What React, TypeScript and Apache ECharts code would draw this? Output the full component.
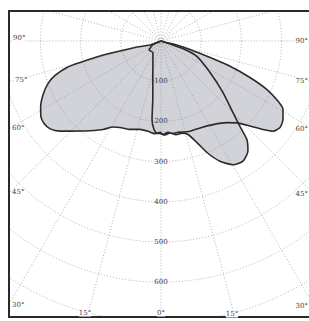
import { useEffect, useRef } from 'react';
import * as echarts from 'echarts';

// Polar photometric diagram: angle from nadir (deg, negative = left), intensity (cd)
const curveAAngles = [-90, -70, -76, -76.3, -76.2, -75.1, -74.3, -72, -69.4, -65.6, -61.1, -57.8, -54.8, -51.6, -48.3, -40.2, -33.2, -29.2, -25.4, -19.3, -13.3, -8.2, -3.7, -0.6, 1.2, 4.4, 7.4, 10.6, 13.6, 17.8, 24.2, 31.9, 38.9, 42.9, 46.3, 49.1, 51.2, 54, 57.2, 60.7, 62.8, 65.4, 67.7, 69.9, 71.4, 73.7, 76, 73, 90];
const curveAValues = [0, 29, 67, 105, 156, 208, 243, 277, 300, 322, 342, 353, 356, 352, 337, 293, 263, 245, 238, 233, 226, 227, 231, 227, 233, 228, 232, 231, 233, 236, 237, 245, 261, 278, 306, 336, 358, 366, 361, 348, 327, 290, 239, 183, 129, 75, 36, 13, 0];

const curveBAngles = [-90, -66, -53, -35, -19, -12, -8, -6.5, -4.5, -2.5, -0.6, 2.4, 5.6, 9.1, 12.8, 16.1, 19.5, 22.4, 26.1, 30.2, 34.3, 38.3, 41.1, 42.7, 45.2, 50.3, 57.3, 66.7, 70.5, 71.6, 90];
const curveBValues = [0, 22, 37, 35, 62, 98, 147, 197, 221, 230, 230, 234, 230, 236, 235, 242, 268, 300, 333, 356, 362, 349, 325, 290, 252, 200, 145, 97, 63, 24, 0];

const radiusMax = 800;
const radiusStep = 100;
const radiusLabelMax = 600;
const angleStep = 15;

const angleLabels = ['90°', '75°', '60°', '45°', '30°', '15°', '0°', '15°', '30°', '45°', '60°', '75°', '90°'];
// label placements (layout only)
const angleLabelLayout: Array<[number, number, 'left' | 'center' | 'right']> = [
  [13, 38, 'left'], [15, 80, 'left'], [12, 128, 'left'], [12, 192, 'left'], [12, 305, 'left'], [85, 313, 'center'],
  [161, 313, 'center'],
  [232, 314, 'center'], [308, 306, 'right'], [308, 194, 'right'], [308, 129, 'right'], [308, 81, 'right'], [308, 41, 'right'],
];

const toAxis = (a: number) => (a < 0 ? a + 360 : a);
const pairs = (angles: number[], values: number[]) => angles.map((a, i) => [values[i], toAxis(a)]);

const FILL = '#d2d2d9';
const LINE = '#2b2b2b';
const GRID = '#8c8c8c';
const SMOOTH = 0.2;

export default function App() {
  const ref = useRef<HTMLDivElement>(null);
  useEffect(() => {
    const chart = echarts.init(ref.current!, null, { renderer: 'svg' });
    const dataA = pairs(curveAAngles, curveAValues);
    const dataB = pairs(curveBAngles, curveBValues);
    const frame = { left: 9, top: 11, right: 312, bottom: 317 };
    chart.setOption({
      animation: false,
      backgroundColor: '#ffffff',
      polar: { center: [161, 41], radius: 321.6 },
      angleAxis: {
        type: 'value', min: 0, max: 360, interval: angleStep, startAngle: 270, clockwise: false, z: 2,
        axisLine: { show: false }, axisTick: { show: false }, axisLabel: { show: false },
        splitLine: { show: true, lineStyle: { type: [1, 2], color: GRID, width: 0.8, opacity: 0.85 } },
      },
      radiusAxis: {
        type: 'value', min: 0, max: radiusMax, interval: radiusStep, z: 2,
        axisLine: { show: false }, axisTick: { show: false },
        axisLabel: {
          show: true, margin: 0, align: 'center', verticalAlign: 'middle',
          fontSize: 7, fontFamily: 'DejaVu Serif', color: '#444',
          padding: [0, 1],
          formatter: (v: number) => (v > 0 && v <= radiusLabelMax ? String(v) : ''),
        },
        splitLine: { show: true, lineStyle: { type: [1, 2], color: GRID, width: 0.8, opacity: 0.85 } },
      },
      series: [
        { type: 'line', coordinateSystem: 'polar', data: dataA, smooth: SMOOTH, showSymbol: false, lineStyle: { width: 0, opacity: 0 }, areaStyle: { color: FILL, opacity: 1 }, z: 1, silent: true },
        { type: 'line', coordinateSystem: 'polar', data: dataB, smooth: SMOOTH, showSymbol: false, lineStyle: { width: 0, opacity: 0 }, areaStyle: { color: FILL, opacity: 1 }, z: 1, silent: true },
        { type: 'line', coordinateSystem: 'polar', data: dataA, smooth: SMOOTH, showSymbol: false, lineStyle: { width: 1.6, color: LINE }, z: 3, silent: true },
        { type: 'line', coordinateSystem: 'polar', data: dataB, smooth: SMOOTH, showSymbol: false, lineStyle: { width: 1.6, color: LINE }, z: 3, silent: true },
      ],
      graphic: [
        { type: 'rect', z: 100, shape: { x: 0, y: 0, width: 320, height: frame.top }, style: { fill: '#fff' }, silent: true },
        { type: 'rect', z: 100, shape: { x: 0, y: frame.bottom, width: 320, height: 10 }, style: { fill: '#fff' }, silent: true },
        { type: 'rect', z: 100, shape: { x: 0, y: 0, width: frame.left, height: 330 }, style: { fill: '#fff' }, silent: true },
        { type: 'rect', z: 101, shape: { x: frame.left, y: frame.top, width: frame.right - frame.left, height: frame.bottom - frame.top }, style: { fill: 'none', stroke: '#2a2a2a', lineWidth: 2 }, silent: true },
        ...angleLabels.map((t, i) => ({
          type: 'text', z: 102, x: angleLabelLayout[i][0], y: angleLabelLayout[i][1],
          style: { text: t, fontSize: 7, fontFamily: 'DejaVu Serif', fill: '#444', align: angleLabelLayout[i][2], verticalAlign: 'middle', backgroundColor: '#fff' },
          silent: true,
        })),
      ],
    });
    return () => chart.dispose();
  }, []);
  return <div ref={ref} style={{ position: 'absolute', left: 0, top: 0, width: 309, height: 321 }} />;
}
